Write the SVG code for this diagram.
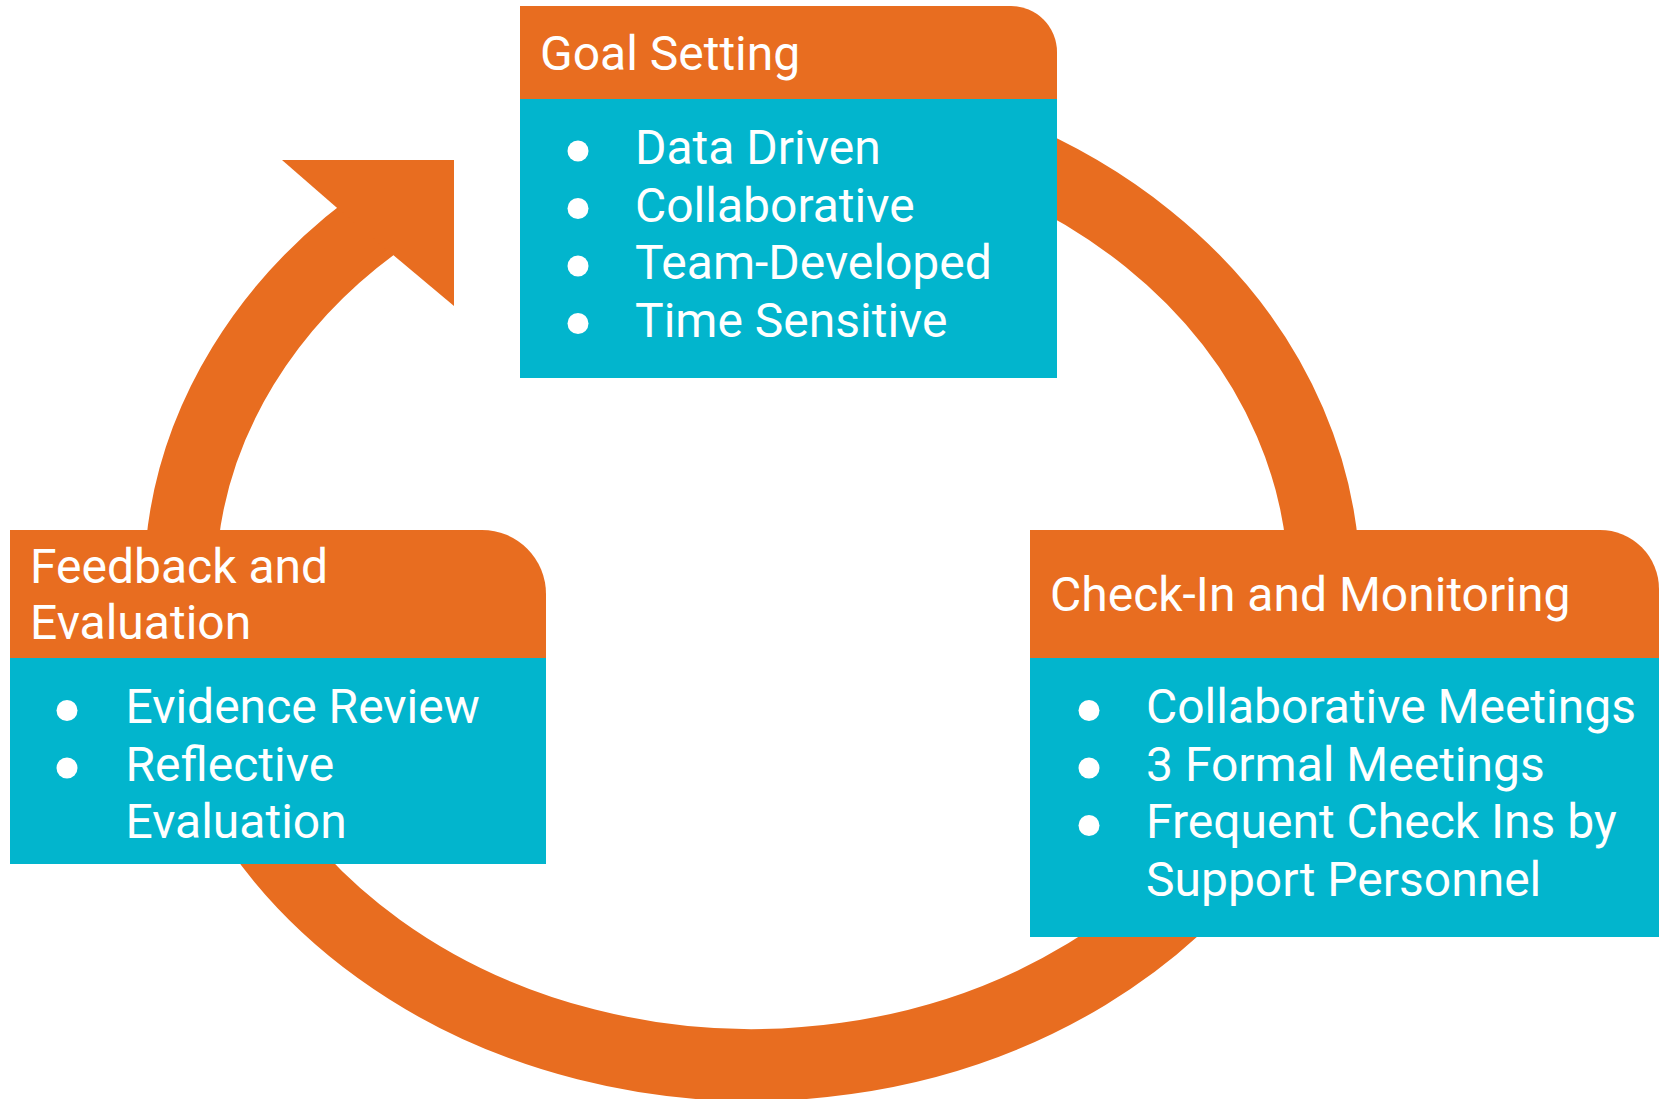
<svg xmlns="http://www.w3.org/2000/svg" width="1662" height="1099" viewBox="0 0 1662 1099">
  <style>
    .head { fill: #E86D20; }
    .body { fill: #02B5CD; }
    .ring { fill: none; stroke: #E86D20; stroke-width: 72; }
    .arrow { fill: #E86D20; }
    .title { font-family: Roboto, "Liberation Sans", sans-serif; font-size: 48px; fill: #FFFFFF; }
    .item { font-family: Roboto, "Liberation Sans", sans-serif; font-size: 48px; fill: #FFFFFF; }
    .dot { fill: #FFFFFF; }
  </style>
  <rect width="1662" height="1099" fill="#FFFFFF"/>

  <!-- cycle band with arrowhead -->
  <g id="connectors">
    <path class="ring" d="M 947.6 134 A 572 480 0 1 1 392 212"/>
    <polygon class="arrow" points="282,160 454,160 454,306 392,254 336,207"/>
  </g>

  <!-- Goal Setting -->
  <g id="goal-setting">
    <path class="head" d="M 520 6 H 1011 A 46 46 0 0 1 1057 52 V 100 H 520 Z"/>
    <rect class="body" x="520" y="99" width="537" height="279"/>
    <text class="title" x="540" y="70">Goal Setting</text>
    <circle class="dot" cx="578" cy="151" r="10.5"/>
    <circle class="dot" cx="578" cy="208.5" r="10.5"/>
    <circle class="dot" cx="578" cy="266" r="10.5"/>
    <circle class="dot" cx="578" cy="323.5" r="10.5"/>
    <text class="item" x="635" y="164">Data Driven</text>
    <text class="item" x="635" y="221.5">Collaborative</text>
    <text class="item" x="635" y="279">Team-Developed</text>
    <text class="item" x="635" y="336.5">Time Sensitive</text>
  </g>

  <!-- Feedback and Evaluation -->
  <g id="feedback-evaluation">
    <path class="head" d="M 10 530 H 482 A 64 64 0 0 1 546 594 V 659 H 10 Z"/>
    <rect class="body" x="10" y="658" width="536" height="206"/>
    <text class="title" x="30" y="583">Feedback and</text>
    <text class="title" x="30" y="639">Evaluation</text>
    <circle class="dot" cx="67" cy="710.5" r="10.5"/>
    <circle class="dot" cx="67" cy="768" r="10.5"/>
    <text class="item" x="125.5" y="723">Evidence Review</text>
    <text class="item" x="125.5" y="780.5">Reflective</text>
    <text class="item" x="125.5" y="838">Evaluation</text>
  </g>

  <!-- Check-In and Monitoring -->
  <g id="check-in-monitoring">
    <path class="head" d="M 1030 530 H 1600 A 59 59 0 0 1 1659 589 V 659 H 1030 Z"/>
    <rect class="body" x="1030" y="658" width="629" height="279"/>
    <text class="title" x="1050" y="611">Check-In and Monitoring</text>
    <circle class="dot" cx="1089" cy="710.5" r="10.5"/>
    <circle class="dot" cx="1089" cy="768" r="10.5"/>
    <circle class="dot" cx="1089" cy="825.5" r="10.5"/>
    <text class="item" x="1146" y="723">Collaborative Meetings</text>
    <text class="item" x="1146" y="780.5">3 Formal Meetings</text>
    <text class="item" x="1146" y="838">Frequent Check Ins by</text>
    <text class="item" x="1146" y="895.5">Support Personnel</text>
  </g>
</svg>
